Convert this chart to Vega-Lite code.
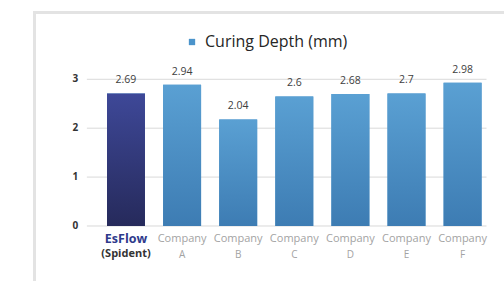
{
  "$schema": "https://vega.github.io/schema/vega-lite/v6.json",
  "width": 470,
  "height": 269,
  "autosize": {"type": "none"},
  "padding": {"left": 34, "top": 12, "right": 0, "bottom": 0},
  "background": "white",
  "config": {
    "view": {"stroke": null},
    "font": "Open Sans"
  },
  "datasets": {
    "bars": [
      {"name": "EsFlow", "label1": "EsFlow", "label2": "(Spident)", "value": "2.69", "height": 2.71, "series": "Curing Depth (mm)"},
      {"name": "Company A", "label1": "Company", "label2": "A", "value": "2.94", "height": 2.89, "series": "Curing Depth (mm)"},
      {"name": "Company B", "label1": "Company", "label2": "B", "value": "2.04", "height": 2.18, "series": "Curing Depth (mm)"},
      {"name": "Company C", "label1": "Company", "label2": "C", "value": "2.6", "height": 2.65, "series": "Curing Depth (mm)"},
      {"name": "Company D", "label1": "Company", "label2": "D", "value": "2.68", "height": 2.70, "series": "Curing Depth (mm)"},
      {"name": "Company E", "label1": "Company", "label2": "E", "value": "2.7", "height": 2.71, "series": "Curing Depth (mm)"},
      {"name": "Company F", "label1": "Company", "label2": "F", "value": "2.98", "height": 2.93, "series": "Curing Depth (mm)"}
    ],
    "grid": [{"v": 0}, {"v": 1}, {"v": 2}, {"v": 3}]
  },
  "layer": [
    {
      "data": {"name": "grid"},
      "mark": {"type": "rule", "color": "#d9d9d9", "strokeWidth": 1},
      "encoding": {
        "y": {
          "field": "v", "type": "quantitative",
          "scale": {"domain": [-1.125, 4.376], "nice": false, "zero": false},
          "axis": {"labels": false, "ticks": false, "grid": false, "title": null, "domain": true, "domainColor": "#e3e3e3", "domainWidth": 3, "domainCap": "square"}
        },
        "x": {
          "datum": "EsFlow", "type": "nominal", "bandPosition": -0.53,
          "scale": {"domain": ["EsFlow", "Company A", "Company B", "Company C", "Company D", "Company E", "Company F"], "paddingInner": 0.323, "paddingOuter": 0.8505, "align": 0.765}
        },
        "x2": {"datum": "Company F", "bandPosition": 1.13}
      }
    },
    {
      "data": {"name": "grid"},
      "mark": {"type": "text", "fontSize": 10, "fontWeight": "bold", "color": "#333333", "align": "right", "baseline": "middle"},
      "encoding": {
        "y": {"field": "v", "type": "quantitative"},
        "x": {"datum": "EsFlow", "type": "nominal", "bandPosition": -0.76},
        "text": {"field": "v", "type": "nominal"}
      }
    },
    {
      "data": {"name": "bars"},
      "mark": {"type": "bar"},
      "encoding": {
        "x": {"field": "name", "type": "nominal", "axis": {"orient": "top", "labels": false, "ticks": false, "title": null, "domain": true, "domainColor": "#e3e3e3", "domainWidth": 3, "domainCap": "square"}},
        "y": {"field": "height", "type": "quantitative"},
        "y2": {"datum": 0},
        "color": {
          "field": "series", "type": "nominal",
          "scale": {"range": ["#4b94cb"]},
          "legend": {"orient": "none", "legendX": 150, "legendY": 22, "title": null, "symbolType": "square", "symbolSize": 40, "labelOffset": 5, "labelFontSize": 16, "labelColor": "#262626", "labelFont": "Open Sans", "symbolStrokeWidth": 0}
        }
      }
    },
    {
      "data": {"name": "bars"},
      "transform": [{"filter": "datum.name !== 'EsFlow'"}],
      "mark": {"type": "bar", "color": {"gradient": "linear", "x1": 0, "y1": 0, "x2": 0, "y2": 1, "stops": [{"offset": 0, "color": "#5aa0d3"}, {"offset": 1, "color": "#3d7cb3"}]}},
      "encoding": {
        "x": {"field": "name", "type": "nominal"},
        "y": {"field": "height", "type": "quantitative"},
        "y2": {"datum": 0}
      }
    },
    {
      "data": {"name": "bars"},
      "transform": [{"filter": "datum.name === 'EsFlow'"}],
      "mark": {"type": "bar", "color": {"gradient": "linear", "x1": 0, "y1": 0, "x2": 0, "y2": 1, "stops": [{"offset": 0, "color": "#3e4898"}, {"offset": 1, "color": "#262a5b"}]}},
      "encoding": {
        "x": {"field": "name", "type": "nominal"},
        "y": {"field": "height", "type": "quantitative"},
        "y2": {"datum": 0}
      }
    },
    {
      "data": {"name": "bars"},
      "mark": {"type": "text", "dy": -13, "fontSize": 10.5, "color": "#404040", "baseline": "middle"},
      "encoding": {
        "x": {"field": "name", "type": "nominal"},
        "y": {"field": "height", "type": "quantitative"},
        "text": {"field": "value", "type": "nominal"}
      }
    },
    {
      "data": {"name": "bars"},
      "transform": [{"filter": "datum.name === 'EsFlow'"}],
      "mark": {"type": "text", "fontSize": 12.5, "fontWeight": "bold", "color": "#2e3a8c", "baseline": "middle"},
      "encoding": {
        "x": {"field": "name", "type": "nominal"},
        "y": {"datum": -0.266},
        "text": {"field": "label1", "type": "nominal"}
      }
    },
    {
      "data": {"name": "bars"},
      "transform": [{"filter": "datum.name === 'EsFlow'"}],
      "mark": {"type": "text", "fontSize": 11, "fontWeight": "bold", "color": "#333333", "baseline": "middle"},
      "encoding": {
        "x": {"field": "name", "type": "nominal"},
        "y": {"datum": -0.58},
        "text": {"field": "label2", "type": "nominal"}
      }
    },
    {
      "data": {"name": "bars"},
      "transform": [{"filter": "datum.name !== 'EsFlow'"}],
      "mark": {"type": "text", "fontSize": 11, "color": "#a3a3a3", "baseline": "middle"},
      "encoding": {
        "x": {"field": "name", "type": "nominal"},
        "y": {"datum": -0.266},
        "text": {"field": "label1", "type": "nominal"}
      }
    },
    {
      "data": {"name": "bars"},
      "transform": [{"filter": "datum.name !== 'EsFlow'"}],
      "mark": {"type": "text", "fontSize": 10, "color": "#a3a3a3", "baseline": "middle"},
      "encoding": {
        "x": {"field": "name", "type": "nominal"},
        "y": {"datum": -0.59},
        "text": {"field": "label2", "type": "nominal"}
      }
    }
  ]
}
